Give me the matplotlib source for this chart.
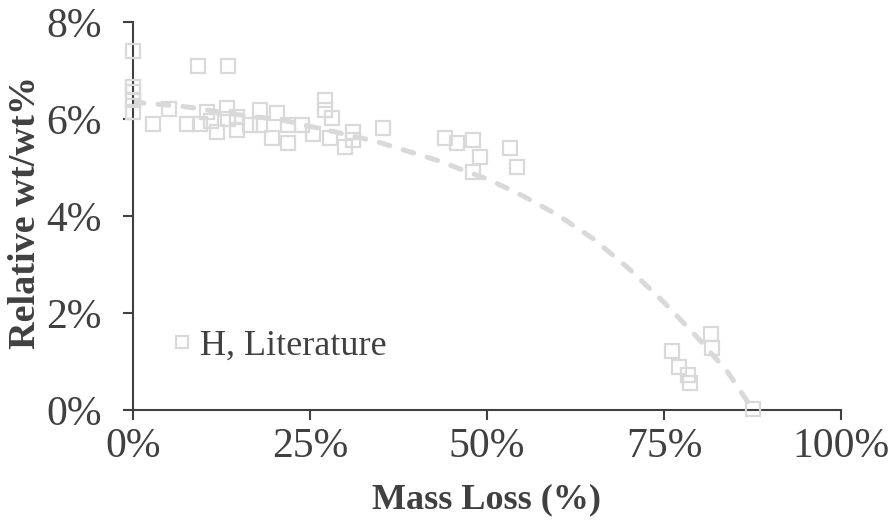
import matplotlib.pyplot as plt
from matplotlib.ticker import FuncFormatter

# mass loss (%) and relative H content (wt/wt %), literature values
mass_loss = [0.0, 0.0, 0.0, 0.0, 0.0, 2.8, 5.1, 7.6, 9.2, 9.5, 10.5, 11.0, 11.9,
             13.3, 13.4, 13.4, 14.7, 14.7, 16.5, 17.9, 17.9, 19.6, 20.3, 21.9,
             21.9, 23.9, 25.4, 27.1, 27.1, 27.8, 28.1, 29.9, 31.1, 31.1, 35.3,
             44.1, 45.8, 48.0, 48.0, 49.0, 53.2, 54.2, 76.1, 77.1, 78.4, 78.7,
             81.6, 81.8, 87.6]
rel_wt = [7.4, 6.65, 6.55, 6.4, 6.15, 5.9, 6.2, 5.9, 7.1, 5.9, 6.15, 5.95, 5.73,
          6.23, 7.1, 6.0, 5.77, 6.05, 5.88, 6.19, 5.88, 5.6, 6.12, 5.88,
          5.5, 5.88, 5.69, 6.39, 6.19, 5.6, 6.02, 5.42, 5.73, 5.57, 5.81,
          5.6, 5.5, 5.57, 4.9, 5.22, 5.4, 5.0, 1.22, 0.89, 0.72, 0.56,
          1.57, 1.28, 0.02]

# trend line through the scatter
trend_x = [0.0, 7.6, 14.1, 21.0, 27.4, 34.5, 42.9, 50.4, 55.0, 60.0, 65.0,
           70.0, 75.0, 80.0, 84.0, 87.6]
trend_y = [6.35, 6.25, 6.10, 5.98, 5.77, 5.53, 5.15, 4.74, 4.42, 4.02, 3.53,
           2.92, 2.22, 1.45, 0.78, 0.0]

x_ticks = [0, 25, 50, 75, 100]
y_ticks = [0, 2, 4, 6, 8]

text_color = '#404040'
mark_color = '#d9d9d9'
plt.rcParams['font.family'] = ['Liberation Serif', 'DejaVu Serif']

fig = plt.figure(figsize=(8.89, 5.24), dpi=100)
ax = fig.add_axes([0.1496, 0.2176, 0.7964, 0.7405])

line, = ax.plot(trend_x, trend_y, color=mark_color, lw=3.6,
                solid_capstyle='round', dash_capstyle='round', zorder=2)
line.set_dashes([2.2, 2.8])

ax.plot(mass_loss, rel_wt, linestyle='none', marker='s', markersize=9.5,
        markerfacecolor='none', markeredgecolor=mark_color,
        markeredgewidth=1.6, clip_on=False, zorder=3, label='H, Literature')

ax.set_xlim(0, 100)
ax.set_ylim(0, 8)
ax.set_xticks(x_ticks)
ax.set_yticks(y_ticks)
ax.xaxis.set_major_formatter(FuncFormatter(lambda v, p: f'{v:.0f}%'))
ax.yaxis.set_major_formatter(FuncFormatter(lambda v, p: f'{v:.0f}%'))

for side in ['top', 'right']:
    ax.spines[side].set_visible(False)
for side in ['left', 'bottom']:
    ax.spines[side].set_color(text_color)
    ax.spines[side].set_linewidth(1.5)

ax.tick_params(axis='both', direction='out', length=7.5, width=1.5,
               color=text_color, labelcolor=text_color, labelsize=30)
ax.tick_params(axis='y', pad=15)
ax.tick_params(axis='x', pad=5)

ax.set_xlabel('Mass Loss (%)', fontsize=26, fontweight='bold', color=text_color)
ax.set_ylabel('Relative wt/wt%', fontsize=27.5, fontweight='bold', color=text_color)
ax.xaxis.set_label_coords(0.5, -0.19)
ax.yaxis.set_label_coords(-0.127, 0.51)

ax.legend(loc='center left', bbox_to_anchor=(0.028, 0.165), frameon=False,
          fontsize=26, handlelength=0.6, handletextpad=0.2, labelcolor=text_color,
          borderpad=0, markerscale=0.9)

fig.savefig('out.png', dpi=100)
